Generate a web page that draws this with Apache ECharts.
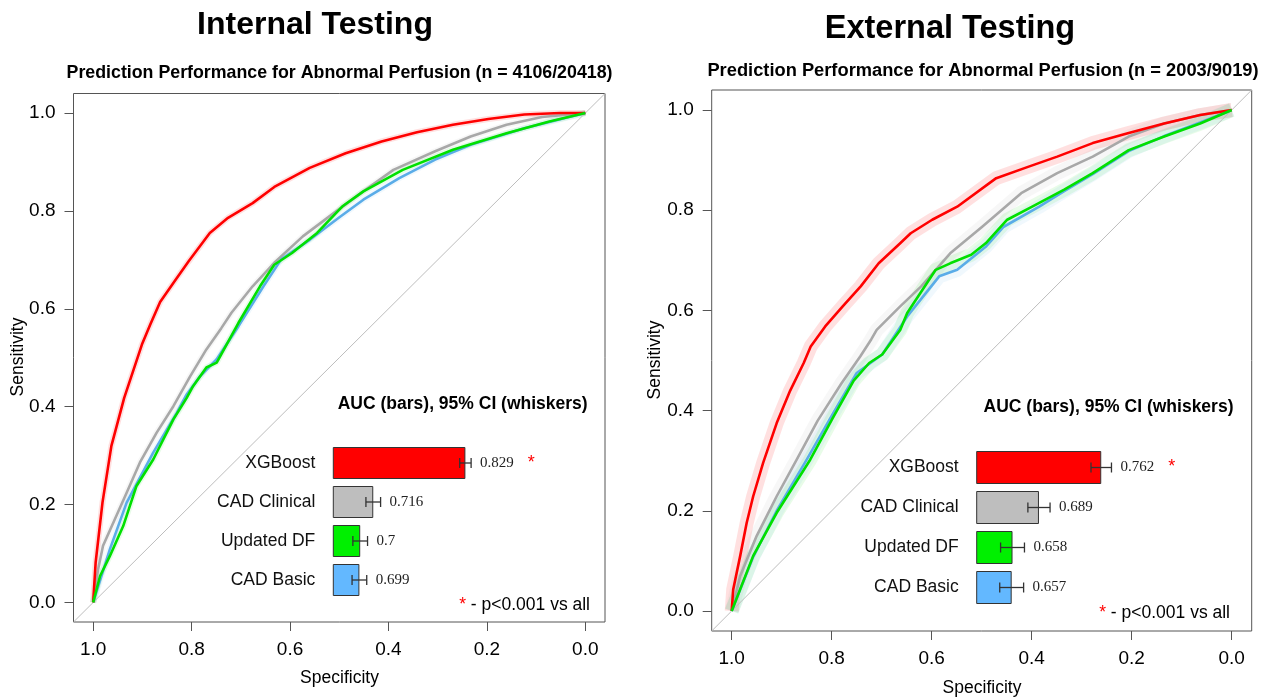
<!DOCTYPE html>
<html>
<head>
<meta charset="utf-8">
<script src="https://cdn.jsdelivr.net/npm/echarts@6/dist/echarts.min.js"></script>
<style>
  html, body {margin: 0; background: #fff}
  #chart {width: 1272px; height: 698px}
</style>
</head>
<body>
<div id="chart"></div>
<script>
// models, in inset order
const models = ['XGBoost', 'CAD Clinical', 'Updated DF', 'CAD Basic']
const barColors = ['#ff0000', '#bebebe', '#00f000', '#63b8ff']
const lineColors = ['#ff0000', '#a8a8a8', '#00e000', '#5aace8']
const tickVals = [0, 0.2, 0.4, 0.6, 0.8, 1]

// internal testing AUC + 95% CI
const intAuc = [0.829, 0.716, 0.7, 0.699]
const intLo = [0.822, 0.707, 0.691, 0.690]
const intHi = [0.836, 0.725, 0.709, 0.708]
// external testing AUC + 95% CI
const extAuc = [0.762, 0.689, 0.658, 0.657]
const extLo = [0.750, 0.676, 0.644, 0.643]
const extHi = [0.774, 0.702, 0.672, 0.671]
const sigFlag = [true, false, false, false]

// internal ROC curves (specificity / sensitivity)
const intXgbSpec = [1, 0.995, 0.981, 0.963, 0.937, 0.901, 0.884, 0.864, 0.835, 0.806, 0.763, 0.726, 0.676, 0.632, 0.560, 0.487, 0.414, 0.342, 0.269, 0.197, 0.124, 0.051, 0]
const intXgbSens = [0, 0.082, 0.205, 0.320, 0.418, 0.527, 0.568, 0.614, 0.656, 0.697, 0.755, 0.786, 0.816, 0.849, 0.888, 0.918, 0.942, 0.961, 0.976, 0.988, 0.997, 1.0, 1.0]
const intCliSpec = [1, 0.990, 0.980, 0.956, 0.932, 0.905, 0.871, 0.837, 0.803, 0.770, 0.740, 0.719, 0.676, 0.632, 0.574, 0.516, 0.451, 0.390, 0.305, 0.233, 0.160, 0.088, 0]
const intCliSens = [0, 0.068, 0.116, 0.170, 0.224, 0.286, 0.347, 0.401, 0.462, 0.517, 0.560, 0.592, 0.646, 0.694, 0.748, 0.792, 0.840, 0.884, 0.922, 0.952, 0.976, 0.992, 1.0]
const intDfSpec = [1, 0.986, 0.966, 0.939, 0.912, 0.878, 0.837, 0.810, 0.797, 0.770, 0.749, 0.705, 0.661, 0.632, 0.596, 0.545, 0.494, 0.451, 0.371, 0.269, 0.160, 0.073, 0]
const intDfSens = [0, 0.054, 0.095, 0.156, 0.238, 0.292, 0.374, 0.418, 0.442, 0.480, 0.490, 0.571, 0.646, 0.690, 0.714, 0.755, 0.809, 0.840, 0.884, 0.925, 0.959, 0.983, 1.0]
const intBasSpec = [1, 0.966, 0.932, 0.878, 0.830, 0.810, 0.783, 0.749, 0.705, 0.654, 0.618, 0.560, 0.501, 0.451, 0.378, 0.305, 0.233, 0.124, 0]
const intBasSens = [0, 0.109, 0.204, 0.306, 0.388, 0.425, 0.462, 0.497, 0.564, 0.646, 0.701, 0.741, 0.786, 0.823, 0.867, 0.905, 0.935, 0.969, 1.0]

// external ROC curves
const extXgbSpec = [1, 0.997, 0.983, 0.970, 0.957, 0.937, 0.910, 0.883, 0.856, 0.842, 0.813, 0.778, 0.742, 0.706, 0.663, 0.642, 0.599, 0.549, 0.471, 0.406, 0.349, 0.278, 0.206, 0.135, 0.063, 0]
const extXgbSens = [0, 0.043, 0.110, 0.176, 0.229, 0.296, 0.375, 0.440, 0.495, 0.528, 0.568, 0.608, 0.648, 0.694, 0.734, 0.754, 0.781, 0.807, 0.864, 0.887, 0.907, 0.934, 0.954, 0.973, 0.990, 1.0]
const extCliSpec = [1, 0.983, 0.950, 0.910, 0.870, 0.828, 0.780, 0.743, 0.721, 0.710, 0.663, 0.621, 0.563, 0.499, 0.421, 0.349, 0.278, 0.206, 0.135, 0.063, 0]
const extCliSens = [0, 0.070, 0.150, 0.229, 0.302, 0.380, 0.455, 0.508, 0.542, 0.561, 0.608, 0.648, 0.714, 0.767, 0.834, 0.874, 0.907, 0.947, 0.973, 0.990, 1.0]
const extDfSpec = [1, 0.957, 0.910, 0.843, 0.798, 0.756, 0.725, 0.699, 0.663, 0.649, 0.592, 0.563, 0.521, 0.492, 0.449, 0.399, 0.335, 0.278, 0.206, 0.135, 0.063, 0]
const extDfSens = [0, 0.110, 0.196, 0.302, 0.385, 0.460, 0.495, 0.512, 0.561, 0.595, 0.681, 0.694, 0.711, 0.734, 0.781, 0.807, 0.841, 0.874, 0.920, 0.947, 0.973, 1.0]
const extBasSpec = [1, 0.957, 0.910, 0.850, 0.797, 0.750, 0.699, 0.649, 0.585, 0.549, 0.492, 0.456, 0.385, 0.335, 0.278, 0.206, 0.135, 0.063, 0]
const extBasSens = [0, 0.108, 0.200, 0.302, 0.395, 0.475, 0.512, 0.588, 0.668, 0.681, 0.727, 0.767, 0.807, 0.838, 0.872, 0.918, 0.948, 0.975, 1.0]

const SANS = 'Liberation Sans, Arial, sans-serif'
const SERIF = 'Liberation Serif, Times New Roman, serif'
const FRAME = '#555'

const zip = (a, b) => a.map((v, i) => [v, b[i]])

const intCurves = [zip(intXgbSpec, intXgbSens), zip(intCliSpec, intCliSens), zip(intDfSpec, intDfSens), zip(intBasSpec, intBasSens)]
const extCurves = [zip(extXgbSpec, extXgbSens), zip(extCliSpec, extCliSens), zip(extDfSpec, extDfSens), zip(extBasSpec, extBasSens)]

function rocAxes(gi) {
  const label = {
    customValues: tickVals,
    formatter: v => v.toFixed(1),
    color: '#000',
    fontSize: 19,
    fontFamily: SANS,
    margin: 18,
  }
  const tick = {customValues: tickVals, length: 9, lineStyle: {color: FRAME}}
  const line = {show: false, onZero: false}
  return {
    x: {
      gridIndex: gi, type: 'value', min: -0.04, max: 1.04, inverse: true, position: 'bottom',
      axisLine: line, splitLine: {show: false},
      axisTick: tick, axisLabel: label,
    },
    y: {
      gridIndex: gi, type: 'value', min: -0.04, max: 1.04, position: 'left',
      axisLine: line, splitLine: {show: false},
      axisTick: tick, axisLabel: label,
    },
  }
}

function rocSeries(gi, curves, bandW) {
  const out = [{
    type: 'line', xAxisIndex: gi, yAxisIndex: gi, silent: true, symbol: 'none', z: 2,
    data: [[1.04, -0.04], [-0.04, 1.04]],
    lineStyle: {color: '#bdbdbd', width: 1},
  }]
  // faint CI bands
  curves.forEach((d, i) => {
    out.push({
      type: 'line', xAxisIndex: gi, yAxisIndex: gi, silent: true, symbol: 'none', z: 1,
      data: d, lineStyle: {color: lineColors[i], width: bandW, opacity: i === 0 ? 0.12 : 0.09, join: 'round', cap: 'butt'},
    })
  })
  // draw order: gray, blue, red, green
  const order = [1, 3, 0, 2]
  order.forEach((i, k) => {
    out.push({
      type: 'line', name: models[i], xAxisIndex: gi, yAxisIndex: gi, silent: true, symbol: 'none', z: 3 + k,
      data: curves[i], lineStyle: {color: lineColors[i], width: 2.6, join: 'round'},
    })
  })
  return out
}

function insetAxes(gi, min, max) {
  return {
    x: {gridIndex: gi, type: 'value', min, max, show: false},
    y: {
      gridIndex: gi, type: 'category', data: models, inverse: true,
      axisLine: {show: false}, axisTick: {show: false}, splitLine: {show: false},
      axisLabel: {color: '#111', fontSize: 17.5, fontFamily: SANS, margin: 18},
    },
  }
}

function whiskerItem(params, api) {
  const i = api.value(3)
  const lo = api.coord([api.value(0), i])
  const hi = api.coord([api.value(1), i])
  const y = lo[1]
  const st = {stroke: '#333', lineWidth: 1.3}
  const label = String(api.value(2))
  const ch = [
    {type: 'line', shape: {x1: lo[0], y1: y, x2: hi[0], y2: y}, style: st},
    {type: 'line', shape: {x1: lo[0], y1: y - 5, x2: lo[0], y2: y + 5}, style: st},
    {type: 'line', shape: {x1: hi[0], y1: y - 5, x2: hi[0], y2: y + 5}, style: st},
    {
      type: 'text', x: hi[0] + 9, y: y,
      style: {
        text: sigFlag[i] ? label + '{s|*}' : label,
        fill: '#222', font: '15px ' + SERIF, align: 'left', verticalAlign: 'middle',
        rich: {s: {fill: '#ff0000', fontSize: 18, fontFamily: SANS, padding: [0, 0, 0, 14]}},
      },
    },
  ]
  return {type: 'group', children: ch}
}

function insetSeries(gi, auc, lo, hi, barW) {
  return [
    {
      type: 'bar', xAxisIndex: gi, yAxisIndex: gi, barWidth: barW, silent: true,
      data: auc.map((v, i) => ({value: v, itemStyle: {color: barColors[i]}})),
      itemStyle: {borderColor: '#333', borderWidth: 1},
    },
    {
      type: 'custom', xAxisIndex: gi, yAxisIndex: gi, silent: true, z: 5, clip: false,
      data: auc.map((v, i) => [lo[i], hi[i], v, i]),
      encode: {x: [0, 1], y: 3},
      renderItem: whiskerItem,
    },
  ]
}

const txt = (x, y, text, size, o = {}) => ({
  type: 'text', x, y, silent: true, rotation: o.rotation || 0,
  style: {
    text, fill: '#000', fontFamily: SANS, fontSize: size, fontWeight: o.bold ? 'bold' : 'normal',
    align: o.align || 'center', verticalAlign: 'middle',
    rich: {r: {fill: '#ff0000', fontSize: size, fontFamily: SANS}},
  },
})

const a0 = rocAxes(0)
const a1 = rocAxes(1)
const a2 = insetAxes(2, 0.667, 0.9)
const a3 = insetAxes(3, 0.616, 0.85)

const option = {
  animation: false,
  backgroundColor: '#fff',
  grid: [
    {left: 73.5, top: 93.5, width: 531.5, height: 528.5, show: true, borderColor: FRAME, borderWidth: 1},
    {left: 711.7, top: 90, width: 540, height: 541, show: true, borderColor: FRAME, borderWidth: 1},
    {left: 333.3, top: 443.5, width: 190, height: 156},
    {left: 976.7, top: 447.5, width: 199.6, height: 160},
  ],
  xAxis: [a0.x, a1.x, a2.x, a3.x],
  yAxis: [a0.y, a1.y, a2.y, a3.y],
  series: [
    ...rocSeries(0, intCurves, 6),
    ...rocSeries(1, extCurves, 14),
    ...insetSeries(2, intAuc, intLo, intHi, 32),
    ...insetSeries(3, extAuc, extLo, extHi, 33),
  ],
  graphic: [
    txt(315, 25, 'Internal Testing', 32, {bold: true}),
    txt(950, 29, 'External Testing', 32.5, {bold: true}),
    txt(339.5, 73, 'Prediction Performance for Abnormal Perfusion (n = 4106/20418)', 17.8, {bold: true}),
    txt(983, 71, 'Prediction Performance for Abnormal Perfusion (n = 2003/9019)', 18.3, {bold: true}),
    txt(462.7, 404, 'AUC (bars), 95% CI (whiskers)', 17.5, {bold: true}),
    txt(1108.5, 407, 'AUC (bars), 95% CI (whiskers)', 17.5, {bold: true}),
    txt(590, 605, '{r|*} - p<0.001 vs all', 17.5, {align: 'right'}),
    txt(1230, 613, '{r|*} - p<0.001 vs all', 17.5, {align: 'right'}),
    txt(339.5, 678, 'Specificity', 17.5),
    txt(982, 688, 'Specificity', 17.5),
    txt(18, 357, 'Sensitivity', 17.5, {rotation: Math.PI / 2}),
    txt(655, 360, 'Sensitivity', 17.5, {rotation: Math.PI / 2}),
  ],
}

const chart = echarts.init(document.getElementById('chart'), null, {renderer: 'canvas'})
chart.setOption(option)
</script>
</body>
</html>
